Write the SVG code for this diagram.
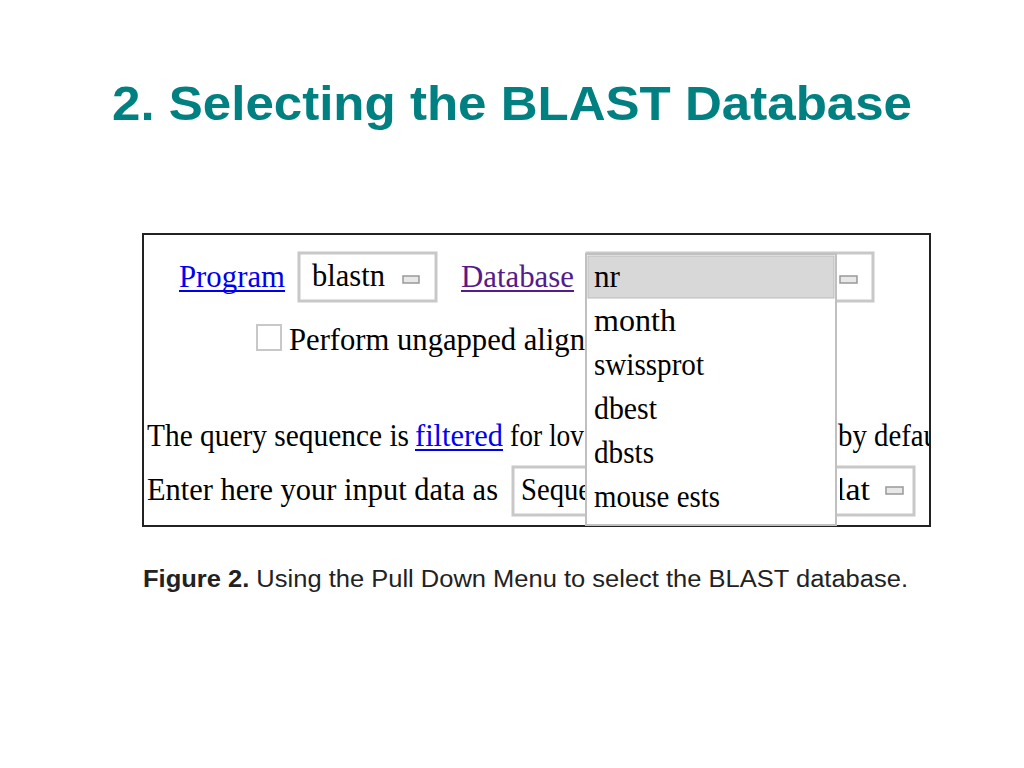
<svg xmlns="http://www.w3.org/2000/svg" width="1024" height="768" viewBox="0 0 1024 768">
<defs>
<style>
.s{font-family:"Liberation Serif",serif;font-size:31px;fill:#000}
.box{fill:#fff;stroke:#c8c8c8;stroke-width:3}
.ic{fill:#e8e8e8;stroke:#999;stroke-width:1.5}
</style>
<clipPath id="c"><rect x="144" y="235" width="785" height="290"/></clipPath>
</defs>
<rect width="1024" height="768" fill="#fff"/>
<text x="112" y="120" font-family="Liberation Sans,Arial,sans-serif" font-weight="bold" font-size="49" fill="#008080" textLength="800" lengthAdjust="spacingAndGlyphs">2. Selecting the BLAST Database</text>
<rect x="143" y="234" width="787" height="292" fill="#fff" stroke="#222" stroke-width="2"/>
<g id="panel" clip-path="url(#c)">
<text class="s" x="179" y="287" style="fill:#0000ee" textLength="106" lengthAdjust="spacingAndGlyphs">Program</text>
<line x1="179" y1="291" x2="285" y2="291" stroke="#0000ee" stroke-width="2"/>
<rect class="box" x="299" y="253" width="137" height="48"/>
<text class="s" x="312" y="286" textLength="73" lengthAdjust="spacingAndGlyphs">blastn</text>
<rect class="ic" x="403" y="276" width="16" height="7"/>
<text class="s" x="461" y="287" style="fill:#551a8b" textLength="113" lengthAdjust="spacingAndGlyphs">Database</text>
<line x1="461" y1="291" x2="574" y2="291" stroke="#551a8b" stroke-width="2"/>
<rect class="box" x="587" y="253" width="286" height="48"/>
<rect class="ic" x="840" y="276" width="17" height="7"/>
<rect x="257" y="325" width="24" height="25" fill="#fff" stroke="#c8c8c8" stroke-width="2"/>
<text class="s" x="289" y="350" textLength="296" lengthAdjust="spacingAndGlyphs">Perform ungapped align</text>
<text class="s" x="147" y="446" textLength="262" lengthAdjust="spacingAndGlyphs">The query sequence is</text>
<text class="s" x="415" y="446" style="fill:#0000ee" textLength="88" lengthAdjust="spacingAndGlyphs">filtered</text>
<line x1="415" y1="450" x2="503" y2="450" stroke="#0000ee" stroke-width="2"/>
<text class="s" x="510" y="446" textLength="74" lengthAdjust="spacingAndGlyphs">for lov</text>
<text class="s" x="838" y="446" textLength="100" lengthAdjust="spacingAndGlyphs">by defau</text>
<text class="s" x="147" y="500" textLength="351" lengthAdjust="spacingAndGlyphs">Enter here your input data as</text>
<rect class="box" x="513" y="467" width="401" height="48"/>
<text class="s" x="521" y="500" textLength="70" lengthAdjust="spacingAndGlyphs">Seque</text>
<text class="s" x="836" y="500" textLength="34" lengthAdjust="spacingAndGlyphs">lat</text>
<rect fill="#fff" x="834" y="470" width="6" height="40"/>
<rect class="ic" x="886" y="487" width="17" height="7"/>
</g>
<g id="dropdown">
<rect x="586" y="254" width="250" height="271" fill="#fff" stroke="#c0c0c0" stroke-width="2"/>
<rect x="588" y="256" width="246" height="42" fill="#d8d8d8" stroke="#bbb" stroke-width="1"/>
<text class="s" x="594" y="287" textLength="26" lengthAdjust="spacingAndGlyphs">nr</text>
<text class="s" x="594" y="331" textLength="82" lengthAdjust="spacingAndGlyphs">month</text>
<text class="s" x="594" y="375" textLength="110" lengthAdjust="spacingAndGlyphs">swissprot</text>
<text class="s" x="594" y="419" textLength="63" lengthAdjust="spacingAndGlyphs">dbest</text>
<text class="s" x="594" y="463" textLength="60" lengthAdjust="spacingAndGlyphs">dbsts</text>
<text class="s" x="594" y="507" textLength="126" lengthAdjust="spacingAndGlyphs">mouse ests</text>
</g>
<text x="143" y="587" font-family="Liberation Sans,Arial,sans-serif" font-size="23" fill="#222" textLength="765" lengthAdjust="spacingAndGlyphs"><tspan font-weight="bold">Figure 2.</tspan> Using the Pull Down Menu to select the BLAST database.</text>
</svg>
